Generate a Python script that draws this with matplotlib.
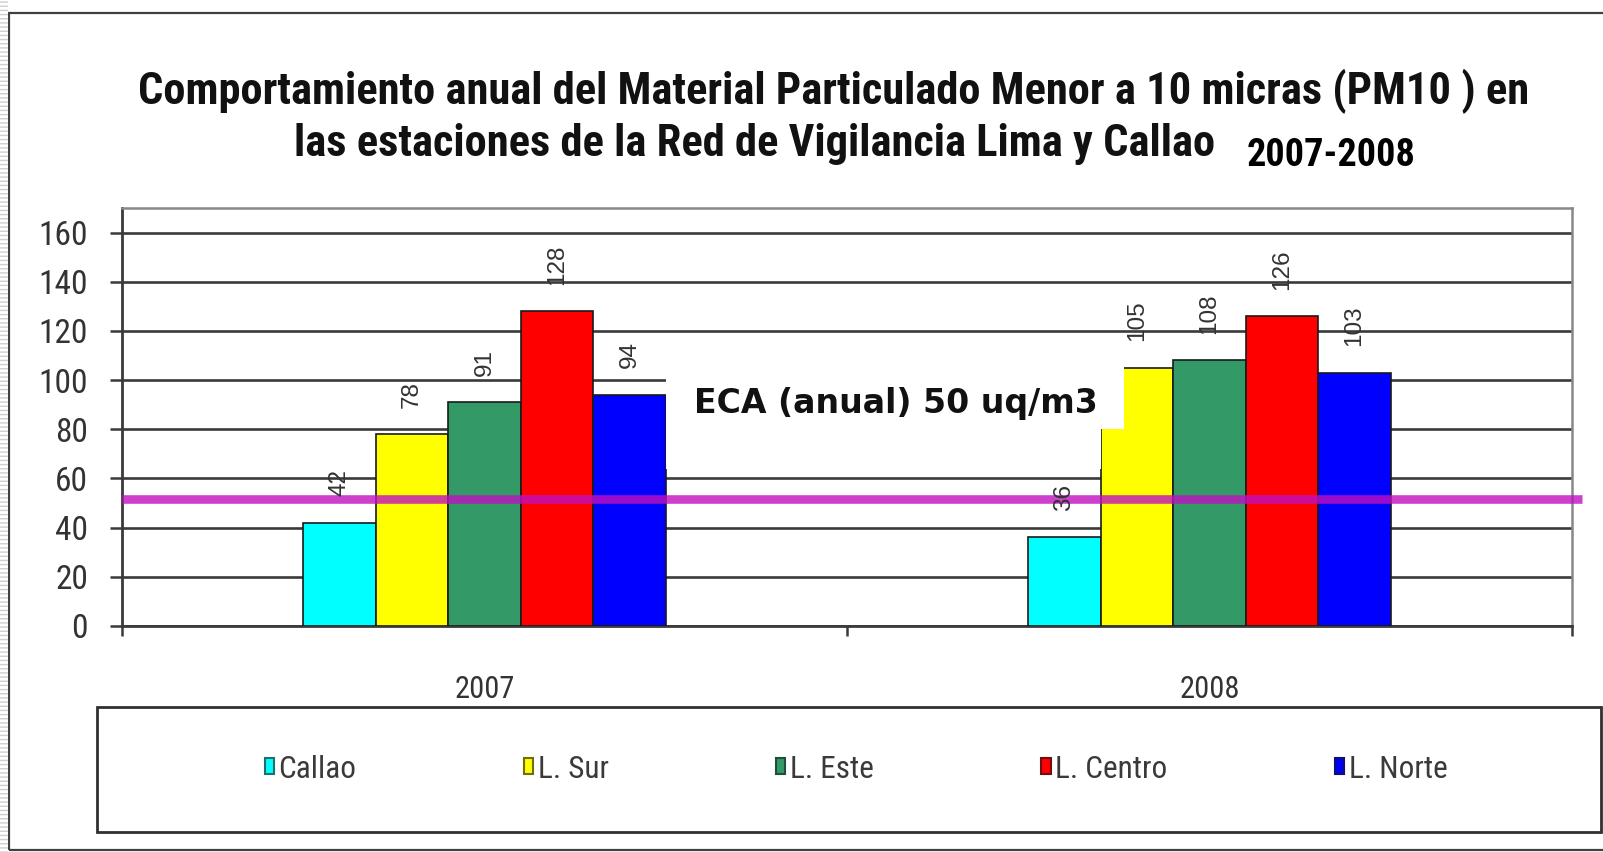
import matplotlib
matplotlib.use("Agg")
import matplotlib.pyplot as plt
from matplotlib import font_manager as fm
from matplotlib.patches import Rectangle, Patch
import numpy as np

# ---------------- data ----------------
years = ["2007", "2008"]
stations = ["Callao", "L. Sur", "L. Este", "L. Centro", "L. Norte"]
callao = [42, 36]
l_sur = [78, 105]
l_este = [91, 108]
l_centro = [128, 126]
l_norte = [94, 103]
series = [callao, l_sur, l_este, l_centro, l_norte]
colors = ["#00FFFF", "#FFFF00", "#339966", "#FF0000", "#0000FF"]
legend_edges = ["#1f6f6f", "#6f6f10", "#1f4f3a", "#6f1010", "#10106f"]
eca_line = 51.5
eca_text = "ECA (anual) 50 uq/m3"
yticks = [0, 20, 40, 60, 80, 100, 120, 140, 160]
title_l1 = "Comportamiento anual del Material Particulado Menor a 10 micras (PM10 ) en"
title_l2 = "las estaciones de la Red de Vigilancia Lima y Callao"
title_years = "2007-2008"

# ---------------- fonts ----------------
entries = fm.fontManager.ttflist
names = {f.name for f in entries}
NARROW = None
NSTRETCH = "normal"
for cand in ["Liberation Sans Narrow", "Arial Narrow", "Roboto Condensed",
             "Open Sans Condensed", "Noto Sans Condensed"]:
    if cand in names:
        NARROW = cand
        break
if NARROW is None:
    cond = [f for f in entries if f.stretch in ("condensed", "semi-condensed", 500)
            or "Condensed" in f.name or "Narrow" in f.name]
    if cond:
        NARROW = cond[0].name
        NSTRETCH = cond[0].stretch if isinstance(cond[0].stretch, str) else "condensed"
if NARROW is None:
    NARROW = "Liberation Sans"
REG = "Liberation Sans"

W, H = 1603, 852
fig = plt.figure(figsize=(W / 100, H / 100), dpi=100)
fig.patch.set_facecolor("white")

def fx(px):
    return px / W

def fy(py):
    return 1 - py / H

NF = dict(family=NARROW, stretch=NSTRETCH)

# outer border + left stripes
fig.add_artist(Rectangle((fx(9), fy(850)), fx(1620) - fx(9), fy(13) - fy(850),
                         transform=fig.transFigure, fill=False, ec="#404040", lw=1.6, clip_on=False))
fig.add_artist(Rectangle((0, 0), fx(8), 1, transform=fig.transFigure, fc="white",
                         ec="#cfcfcf", hatch="----", lw=0))

# ---------------- axes ----------------
ax = fig.add_axes([fx(122), fy(626), fx(1572) - fx(122), fy(208) - fy(626)])
ax.set_xlim(-0.5, 1.5)
ax.set_ylim(0, 170)

x = np.arange(len(years))
bw = 0.1
for i, (vals, c) in enumerate(zip(series, colors)):
    pos = x + (i - 2) * bw
    ax.bar(pos, vals, width=bw, color=c, edgecolor="#1a1a1a", lw=1.2, zorder=3,
           label=stations[i])
    for p, v in zip(pos, vals):
        ax.annotate(str(v), (p, v), xytext=(0, 19), textcoords="offset points",
                    rotation=90, ha="center", va="bottom", fontsize=17.5,
                    family=REG, color="#333333", zorder=6)

# grid
ax.set_yticks(yticks)
ax.yaxis.grid(True, color="#3a3a3a", lw=1.9, zorder=1)
ax.set_axisbelow(True)
ax.tick_params(axis="y", direction="out", length=8.5, width=1.8, color="#3a3a3a",
               pad=16, labelsize=24, labelcolor="#333333")
for lab in ax.get_yticklabels():
    lab.set_family(NARROW)
    lab.set_stretch(NSTRETCH)

# x ticks at category boundaries, labels at centres
ax.set_xticks([-0.5, 0.5, 1.5])
ax.set_xticklabels(["", "", ""])
ax.tick_params(axis="x", which="major", direction="out", length=7, width=1.8, color="#3a3a3a")
ax.set_xticks(x, minor=True)
ax.set_xticklabels(years, minor=True, fontsize=22, color="#333333", **NF)
ax.tick_params(axis="x", which="minor", length=0, pad=35)

for s in ["left", "bottom"]:
    ax.spines[s].set_color("#3a3a3a")
    ax.spines[s].set_linewidth(2)
for s in ["top", "right"]:
    ax.spines[s].set_color("#888888")
    ax.spines[s].set_linewidth(1.8)

# ECA line (semi-transparent so bars tint it as in the original)
ax.plot([-0.5, 1.514], [eca_line, eca_line], color="#C010C0", lw=6.2, alpha=0.8,
        zorder=5, clip_on=False, solid_capstyle="butt")

# ECA white text box
ax.add_patch(Rectangle((0.25, 64), 0.60, 48, fc="white", ec="none", zorder=4))
ax.add_patch(Rectangle((0.85, 80), 0.032, 32, fc="white", ec="none", zorder=4))
eca = ax.text(0.567, 90.5, eca_text, ha="center", va="center", fontsize=22,
              family="DejaVu Sans", weight="bold", color="#111111", zorder=6)

# ---------------- titles ----------------
t1 = fig.text(fx(834), fy(91), title_l1, ha="center", va="center", fontsize=28,
              weight="bold", color="#111111", **NF)
t2 = fig.text(fx(755), fy(144), title_l2, ha="center", va="center", fontsize=28,
              weight="bold", color="#111111", **NF)
t3 = fig.text(fx(1247), fy(155), title_years, ha="left", va="center", fontsize=28,
              weight="bold", color="black", **NF)

fig.canvas.draw()
r = fig.canvas.get_renderer()

def fit(t, target):
    w = t.get_window_extent(r).width
    t.set_fontsize(t.get_fontsize() * target / w)

fit(t1, 1392)
t2.set_fontsize(t1.get_fontsize())
fit(t3, 169)
fit(eca, 402)

# ---------------- legend ----------------
fig.add_artist(Rectangle((fx(97), fy(832)), fx(1601) - fx(97), fy(707) - fy(832),
                         transform=fig.transFigure, fill=False, ec="#303030", lw=2.0))
handles = [Patch(facecolor=c, edgecolor=e, lw=1.5) for c, e in zip(colors, legend_edges)]
fig.legend(handles, stations, loc="center", bbox_to_anchor=(fx(856), fy(769)),
           ncol=5, frameon=False, prop={"family": NARROW, "stretch": NSTRETCH, "size": 22.5},
           labelcolor="#3a3a3a", handlelength=0.3, handleheight=0.42,
           handletextpad=0.15, columnspacing=5.35)

fig.savefig("out.png", dpi=100)
